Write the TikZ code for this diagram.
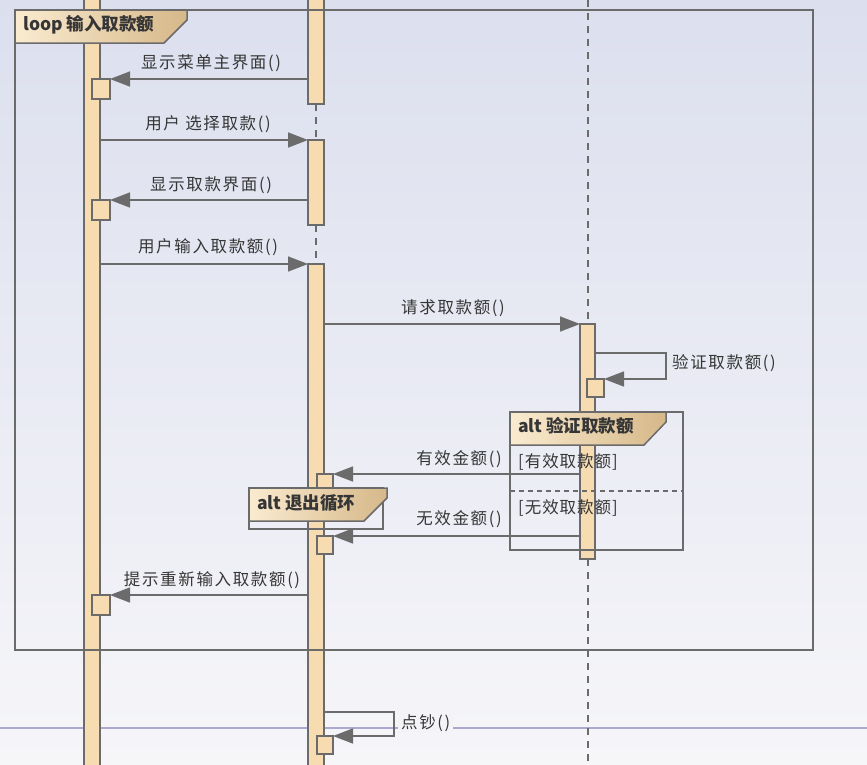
\documentclass[tikz,border=0pt]{standalone}
\usepackage{fontspec}
\setmainfont{Noto Sans CJK SC}
\newfontfamily\lblfont[LetterSpace=10]{Noto Sans CJK SC}
\newfontfamily\guardfont[LetterSpace=6]{Noto Sans CJK SC}
\usetikzlibrary{arrows.meta}
\definecolor{bgtop}{HTML}{DCDFEE}
\definecolor{bgbot}{HTML}{F6F6F9}
\definecolor{lgray}{HTML}{6B6B6B}
\definecolor{barfill}{HTML}{F7DCB2}
\definecolor{tagl}{HTML}{FAEBD0}
\definecolor{tagr}{HTML}{D6B889}
\definecolor{txt}{HTML}{363636}
\definecolor{purp}{HTML}{A9A9D2}
\definecolor{lblbg}{HTML}{F4F4F8}
\begin{document}
\begin{tikzpicture}[x=1pt,y=-1pt,
  bar/.style={draw=lgray, fill=barfill, line width=1.5pt, inner sep=0pt, outer sep=0pt, minimum width=16pt, anchor=north west},
  actbox/.style={bar, minimum width=17pt, minimum height=20pt},
  msg/.style={draw=lgray, line width=1.5pt, -{Triangle[length=20pt,width=15pt,fill=lgray]}},
  lifeline/.style={draw=lgray, line width=1.5pt, dash pattern=on 7pt off 6pt},
  frame/.style={draw=lgray, line width=2pt, inner sep=0pt, outer sep=0pt, anchor=north west},
  tag/.style={left color=tagl, right color=tagr, draw=lgray, line width=1.5pt},
  lbl/.style={font=\lblfont\fontsize{16.5}{19}\selectfont, text=txt, inner sep=1pt},
  guard/.style={font=\guardfont\fontsize{16.5}{19}\selectfont, text=txt, inner sep=1pt},
  tagtext/.style={font=\bfseries\fontsize{17.5}{20}\selectfont, text=txt, inner sep=0pt, anchor=west}]
\useasboundingbox (0,0) rectangle (867,764);
\shade[top color=bgtop, bottom color=bgbot] (0,0) rectangle (867,764);
% horizontal line
\coordinate (hl0) at (0,728);
\coordinate (hl1) at (867,728);
\draw[purp, line width=1.5pt] (hl0) -- (hl1);
% lifeline 3 (dashed)
\coordinate (l3top) at (588,0);
\coordinate (l3bot) at (588,764);
\draw[lifeline] (l3top) -- (l3bot);
% lifeline 1
\node[bar, minimum height=770pt] (bar1) at (84,-3) {};
% lifeline 2
\node[bar, minimum height=107pt] (bar2a) at (308,-3) {};
\node[bar, minimum height=85pt] (bar2b) at (308,140) {};
\node[bar, minimum height=506pt] (bar2c) at (308,264) {};
\draw[lifeline] (bar2a.south) -- (bar2b.north);
\draw[lifeline] (bar2b.south) -- (bar2c.north);
% lifeline 3 activation
\node[bar, minimum width=15pt, minimum height=235pt] (bar3) at (580,324) {};
% small activation boxes
\node[actbox, minimum width=18pt] (box1) at (92,79) {};
\node[actbox, minimum width=18pt] (box2) at (92,200) {};
\node[actbox, minimum height=18pt] (box3) at (587,379) {};
\node[actbox, minimum width=16pt] (box4) at (317,474) {};
\node[actbox, minimum width=16pt, minimum height=18pt] (box5) at (317,536) {};
\node[actbox, minimum width=18pt] (box6) at (92,595) {};
\node[actbox, minimum width=16pt, minimum height=18pt] (box7) at (317,736) {};
% messages
\draw[msg] (bar2a.west |- box1.north east) -- (box1.north east);
\draw[msg] (bar1.east |- bar2b.north west) -- (bar2b.north west);
\draw[msg] (bar2b.west |- box2.north east) -- (box2.north east);
\draw[msg] (bar1.east |- bar2c.north west) -- (bar2c.north west);
\draw[msg] (bar2c.east |- bar3.north west) -- (bar3.north west);
\coordinate (s1a) at (666,353);
\coordinate (s1b) at (666,379);
\draw[msg] (bar3.east |- s1a) -- (s1a) -- (s1b) -- (box3.north east);
\draw[msg] (bar3.west |- box4.north east) -- (box4.north east);
\draw[msg] (bar3.west |- box5.north east) -- (box5.north east);
\draw[msg] (bar2c.west |- box6.north east) -- (box6.north east);
\coordinate (s2a) at (394,712);
\coordinate (s2b) at (394,736);
\draw[msg] (bar2c.east |- s2a) -- (s2a) -- (s2b) -- (box7.north east);
% frames
\node[frame, minimum width=798pt, minimum height=640pt] (loopf) at (15,10) {};
\shadedraw[tag] (15,10) -- (187,10) -- (187,20) -- (164,43) -- (15,43) -- cycle;
\node[tagtext] (looptxt) at (23,25) {loop 输入取款额};
\node[frame, minimum width=173pt, minimum height=138pt] (altv) at (510,412) {};
\coordinate (sep0) at (510,491);
\coordinate (sep1) at (683,491);
\draw[draw=lgray, line width=1.3pt, dash pattern=on 5pt off 4pt] (sep0) -- (sep1);
\shadedraw[tag] (510,412) -- (666,412) -- (666,422) -- (644,445) -- (510,445) -- cycle;
\node[tagtext] (alttxt1) at (518,426) {alt 验证取款额};
\node[frame, minimum width=134pt, minimum height=41pt] (altq) at (249,488) {};
\shadedraw[tag] (249,488) -- (387,488) -- (387,498) -- (364,521) -- (249,521) -- cycle;
\node[tagtext] (alttxt2) at (257,503) {alt 退出循环};
% guards
\node[guard] (g1) at (568,462) {[有效取款额]};
\node[guard] (g2) at (568,508) {[无效取款额]};
% labels
\node[lbl] (t1) at (211,63) {显示菜单主界面()};
\node[lbl] (t2) at (208,124) {用户 选择取款()};
\node[lbl] (t3) at (211,185) {显示取款界面()};
\node[lbl] (t4) at (208,247) {用户输入取款额()};
\node[lbl] (t5) at (453,308) {请求取款额()};
\node[lbl, anchor=west] (t6) at (671,363) {验证取款额()};
\node[lbl] (t7) at (459,459) {有效金额()};
\node[lbl] (t8) at (459,519) {无效金额()};
\node[lbl] (t9) at (212,580) {提示重新输入取款额()};
\node[lbl, fill=lblbg, anchor=west, inner xsep=3pt] (t10) at (398,723) {点钞()};
\end{tikzpicture}
\end{document}
